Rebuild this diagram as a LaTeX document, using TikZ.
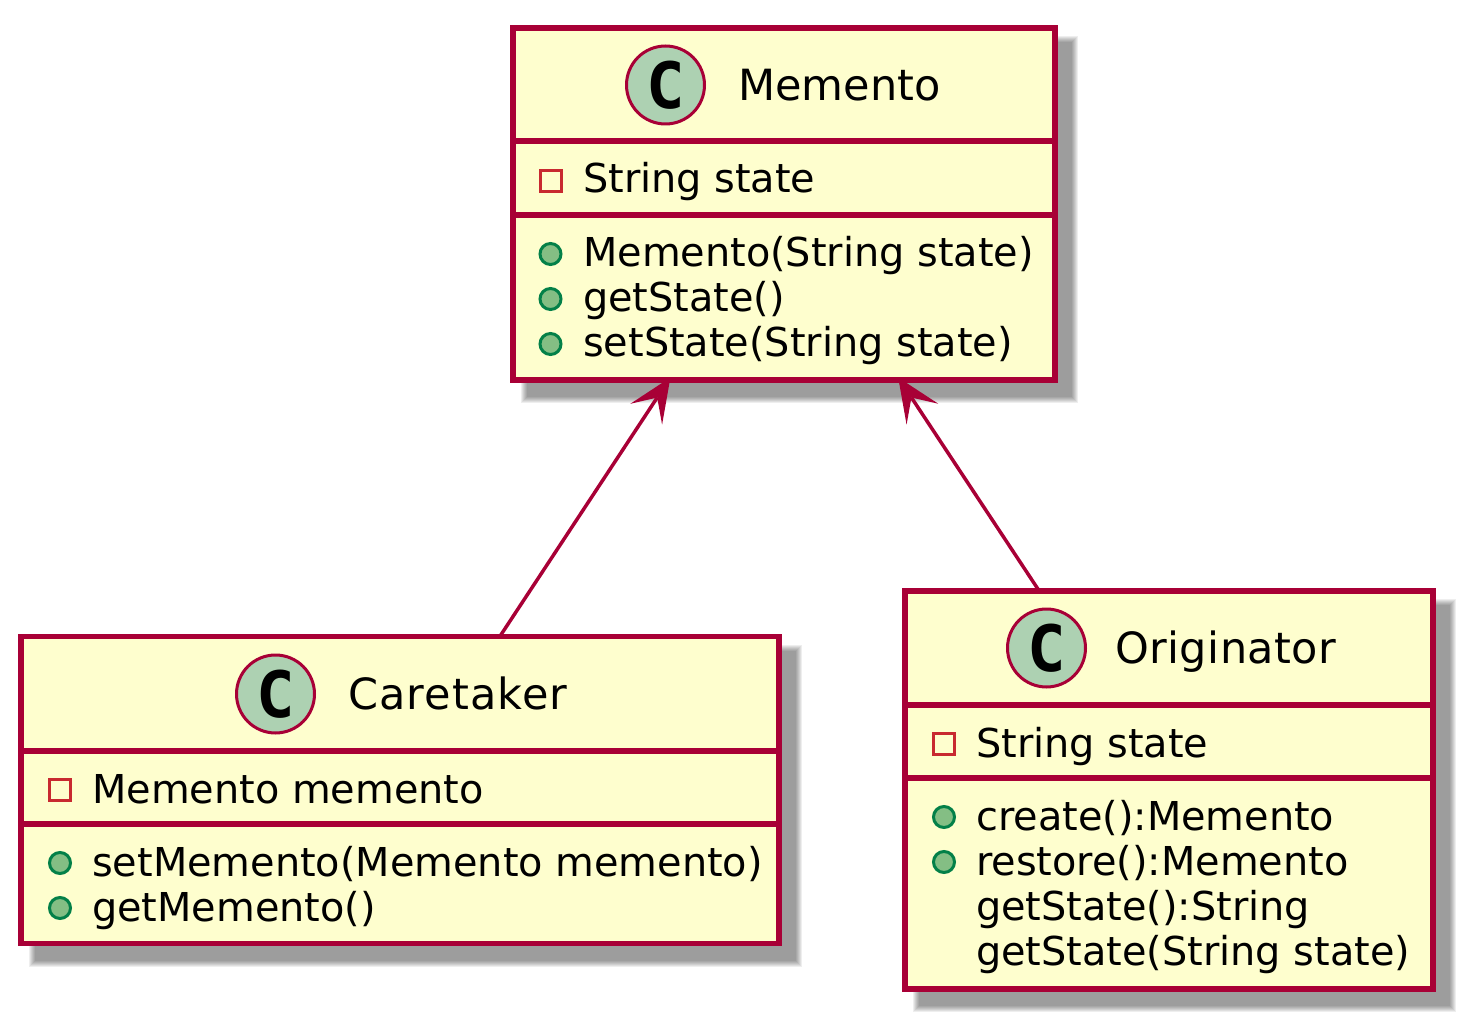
\documentclass[tikz,border=0pt]{standalone}
\usepackage{fontspec}
\setmainfont{DejaVu Sans}
\newfontfamily\spotfont{DejaVu Sans Mono Bold}
\usetikzlibrary{arrows.meta,backgrounds}
\definecolor{umlred}{HTML}{A80036}
\definecolor{umlfill}{HTML}{FEFECE}
\definecolor{spotfill}{HTML}{ADD1B2}
\definecolor{pubfill}{HTML}{84BE84}
\definecolor{publine}{HTML}{038048}
\definecolor{privline}{HTML}{C82930}
\tikzset{
  classbox/.style={draw=umlred, fill=umlfill, line width=5.5pt, outer sep=0pt, inner sep=0pt},
  classline/.style={draw=umlred, line width=5.5pt},
  spot/.style={circle, draw=umlred, fill=spotfill, line width=3pt, minimum size=78pt, inner sep=0pt,
    font=\fontsize{64}{64}\spotfont},
  title/.style={anchor=base west, inner sep=0pt, font=\fontsize{43}{43}\selectfont},
  member/.style={anchor=base west, inner sep=0pt, font=\fontsize{39.8}{40}\selectfont},
  pub/.style={circle, draw=publine, fill=pubfill, line width=3pt, minimum size=21pt, inner sep=0pt},
  priv/.style={rectangle, draw=privline, line width=3pt, minimum size=21pt, inner sep=0pt},
  assoc/.style={draw=umlred, line width=3.5pt, shorten <=-3pt,
    {Stealth[length=44pt,width=38pt,inset=20pt,line width=0pt]}-},
}
\begin{document}
\begin{tikzpicture}[x=1pt, y=-1pt]
\useasboundingbox (0, 0) rectangle (1468, 1024);
% classes
\node[classbox, minimum width=542pt, minimum height=352pt] (memento) at (784, 204) {};
\node[classbox, minimum width=758pt, minimum height=307pt] (caretaker) at (400, 790) {};
\node[classbox, minimum width=528pt, minimum height=398pt] (originator) at (1169, 790) {};
\begin{scope}[on background layer]
\foreach \name in {memento, caretaker, originator}
  \foreach \r in {0, ..., 6}
    \fill[black, opacity=0.065] ([shift={(8 + \r, 8 + \r)}] \name.north west) rectangle ([shift={(23 - \r, 23 - \r)}] \name.south east);
\end{scope}
\draw[classline] (memento.west |- 0, 141) -- (memento.east |- 0, 141);
\draw[classline] (memento.west |- 0, 215) -- (memento.east |- 0, 215);
\draw[classline] (caretaker.west |- 0, 751) -- (caretaker.east |- 0, 751);
\draw[classline] (caretaker.west |- 0, 824) -- (caretaker.east |- 0, 824);
\draw[classline] (originator.west |- 0, 705) -- (originator.east |- 0, 705);
\draw[classline] (originator.west |- 0, 778) -- (originator.east |- 0, 778);
% memento
\node[spot] (mementospot) at (665.5, 85) {C};
\node[title] (mementotitle) at (738, 100.5) {Memento};
\node[priv] (mementostatemark) at (551, 181) {};
\node[member] (mementostate) at (583, 193) {String state};
\node[pub] (mementoctormark) at (550.5, 254) {};
\node[member] (mementoctor) at (583, 267) {Memento(String state)};
\node[pub] (mementogetmark) at (550.5, 299) {};
\node[member] (mementoget) at (583, 312) {getState()};
\node[pub] (mementosetmark) at (550.5, 344) {};
\node[member] (mementoset) at (583, 357) {setState(String state)};
% caretaker
\node[spot] (caretakerspot) at (275.5, 694) {C};
\node[title, font=\fontsize{43}{43}\addfontfeature{LetterSpace=2.6}] (caretakertitle) at (348, 709.5) {Caretaker};
\node[priv] (caretakerstatemark) at (60, 790) {};
\node[member] (caretakerstate) at (92, 803) {Memento memento};
\node[pub] (caretakersetmark) at (60, 863) {};
\node[member] (caretakerset) at (92, 876) {setMemento(Memento memento)};
\node[pub] (caretakergetmark) at (60, 908) {};
\node[member] (caretakerget) at (92, 921) {getMemento()};
% originator
\node[spot] (originatorspot) at (1046.5, 648) {C};
\node[title, font=\fontsize{43}{43}\addfontfeature{LetterSpace=1}] (originatortitle) at (1115, 663.5) {Originator};
\node[priv] (originatorstatemark) at (944, 744) {};
\node[member] (originatorstate) at (976, 757) {String state};
\node[pub] (originatorcreatemark) at (944, 817) {};
\node[member] (originatorcreate) at (976, 830) {create():Memento};
\node[pub] (originatorrestoremark) at (944, 862) {};
\node[member] (originatorrestore) at (976, 875) {restore():Memento};
\node[member] (originatorget) at (976, 920) {getState():String};
\node[member] (originatorset) at (976, 965) {getState(String state)};
% relations
\draw[assoc] (memento) -- (caretaker);
\draw[assoc] (memento) -- (originator);
\end{tikzpicture}
\end{document}
